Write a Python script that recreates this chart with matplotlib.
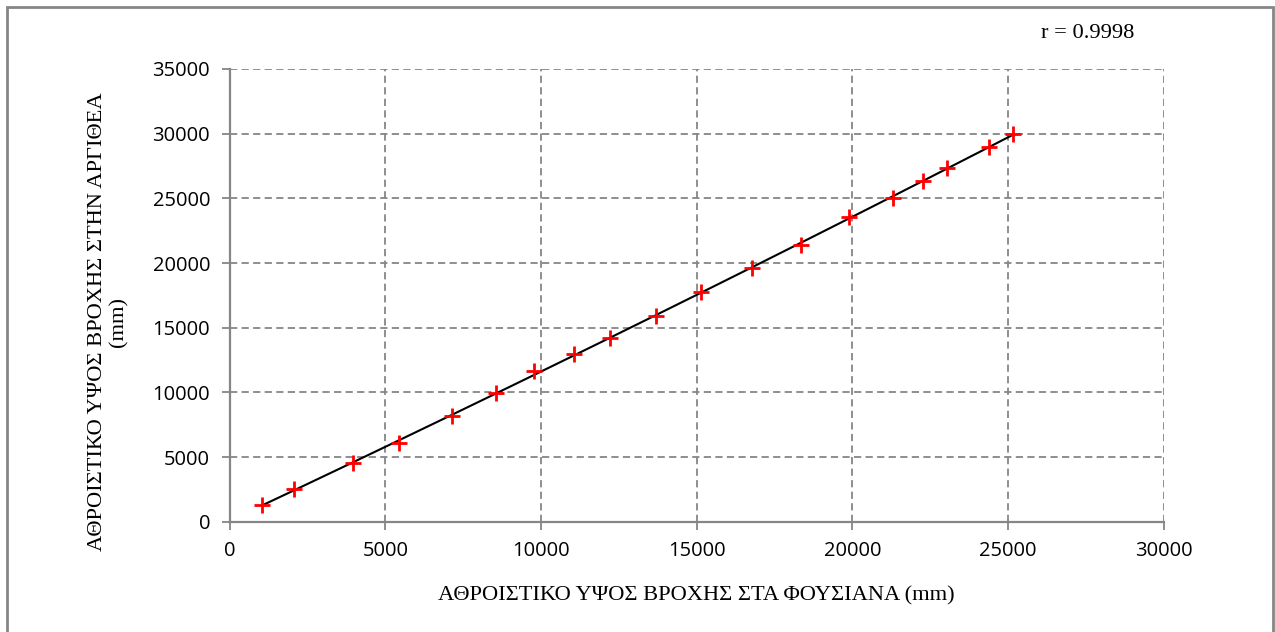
import numpy as np
import matplotlib

matplotlib.use("Agg")
import matplotlib.pyplot as plt
from matplotlib.patches import Rectangle

# cumulative rainfall (mm): Fousiana (x) vs Argithea (y)
fousiana = [1040, 2055, 3963, 5427, 7142, 8565, 9763, 11069, 12203, 13703,
            15133, 16759, 18341, 19889, 21294, 22268, 23020, 24392, 25166]
argithea = [1290, 2500, 4506, 6049, 8156, 9954, 11628, 12994, 14228, 15872,
            17761, 19645, 21394, 23535, 25000, 26342, 27374, 28942, 30000]
xticks = [0, 5000, 10000, 15000, 20000, 25000, 30000]
yticks = [0, 5000, 10000, 15000, 20000, 25000, 30000, 35000]
r_label = "r = 0.9998"

W, H = 1275, 632
fig = plt.figure(figsize=(W / 100, H / 100), dpi=100)
ax = fig.add_axes([229.5 / W, 1 - 521.7 / H, (1164 - 229.5) / W, (521.7 - 69) / H])

grey = "#868686"
serif = ["Liberation Serif", "DejaVu Serif"]
sans = ["Open Sans", "DejaVu Sans"]

x = np.array(fousiana, dtype=float)
y = np.array(argithea, dtype=float)
coef = np.polyfit(x, y, 2)
ax.plot(x, np.polyval(coef, x), color="black", lw=1.5, zorder=3)
ax.plot(x, y, ls="none", marker="+", ms=11.5, mew=2.0, color="#ff0000", zorder=4)

ax.set_xlim(0, 30000)
ax.set_ylim(0, 35000)
ax.set_xticks(xticks)
ax.set_yticks(yticks)
ax.grid(True, color=grey, ls=(0, (4, 2.4)), lw=1.3)
ax.set_axisbelow(True)
for s in ("top", "right"):
    ax.spines[s].set_visible(False)
for s in ("left", "bottom"):
    ax.spines[s].set_color(grey)
    ax.spines[s].set_linewidth(1.6)
ax.tick_params(direction="out", length=6, width=1.3, color=grey,
               labelsize=14.5, pad=8)
for lab in ax.get_xticklabels() + ax.get_yticklabels():
    lab.set_family(sans)

ax.set_xlabel("ΑΘΡΟΙΣΤΙΚΟ ΥΨΟΣ ΒΡΟΧΗΣ ΣΤΑ ΦΟΥΣΙΑΝΑ (mm)",
              family=serif, fontsize=16.2)
ax.xaxis.set_label_coords(0.5, -(596 - 521.7) / 452.7)
ax.xaxis.label.set_va("center")
ax.set_ylabel("ΑΘΡΟΙΣΤΙΚΟ ΥΨΟΣ ΒΡΟΧΗΣ ΣΤΗΝ ΑΡΓΙΘΕΑ\n(mm)",
              family=serif, fontsize=16.2, linespacing=1.15)
ax.yaxis.set_label_coords(-(229.5 - 108) / 934.5, (521.7 - 322) / 452.7)
ax.yaxis.label.set_va("center")

fig.text(1088 / W, 1 - 33 / H, r_label, family=serif, fontsize=16.2,
         ha="center", va="center")

fig.patches.append(Rectangle((7 / W, -0.05), (1273 - 7) / W, 1.05 - 7 / H,
                             transform=fig.transFigure, fill=False,
                             edgecolor=grey, lw=2))

fig.savefig("out.png", dpi=100)
